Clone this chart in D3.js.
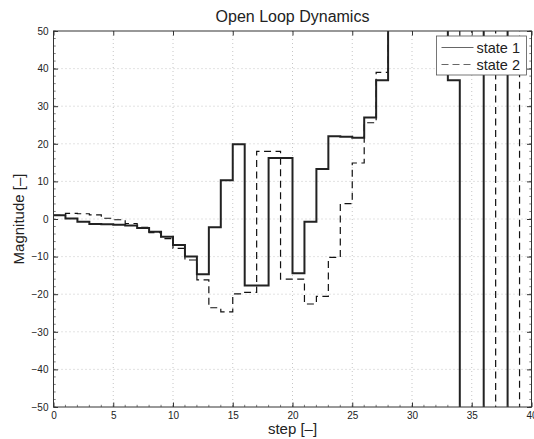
<!DOCTYPE html>
<html>
<head>
<meta charset="utf-8">
<script src="https://cdn.jsdelivr.net/npm/d3@7"></script>
<style>
  html, body { margin: 0; padding: 0; background: #fff; }
  svg text { font-family: "Liberation Sans", Arial, Helvetica, sans-serif; fill: #222; }
</style>
</head>
<body>
<svg id="chart" width="534" height="439"></svg>
<script>
// ---- data ----
const steps = d3.range(0, 41);
// state 1 (solid); values beyond the axes are off-scale (diverging)
const state1 = [1.0, 0.1, -0.7, -1.3, -1.4, -1.5, -1.7, -2.4, -3.4, -4.7,
  -6.9, -10.0, -14.7, -2.2, 10.3, 19.9, -17.7, -17.7, 16.2, 16.2,
  -14.4, -0.7, 13.3, 22.0, 21.9, 21.6, 27.0, 36.9, 90, 90,
  90, 90, 90, 36.9, -90, -90, 90, 90, -90, -90, -90];
// state 2 (dashed)
const state2 = [1.0, 1.5, 1.4, 1.1, 0.2, -0.2, -1.2, -2.2, -3.6, -5.2,
  -7.8, -10.9, -16.2, -23.6, -24.7, -19.9, -19.5, 18.0, 18.0, -16.0,
  -16.0, -22.6, -20.6, -10.2, 4.1, 14.9, 25.6, 39.0, 90, 90,
  90, 90, 90, 90, 44, 90, 90, -90, -90, 90, 90];
const xTicks = [0, 5, 10, 15, 20, 25, 30, 35, 40];
const yTicks = [-50, -40, -30, -20, -10, 0, 10, 20, 30, 40, 50];
const seriesNames = ["state 1", "state 2"];
const titleText = "Open Loop Dynamics";
const xLabel = "step [\u2013]";
const yLabel = "Magnitude [\u2013]";

// ---- layout ----
const W = 534, H = 439;
const m = { left: 53.5, right: 2.5, top: 31, bottom: 32 };
const iw = W - m.left - m.right, ih = H - m.top - m.bottom;

const svg = d3.select("#chart");
const g = svg.append("g").attr("transform", `translate(${m.left},${m.top})`);

const x = d3.scaleLinear().domain([0, 40]).range([0, iw]);
const y = d3.scaleLinear().domain([-50, 50]).range([ih, 0]);

// grid
const grid = g.append("g").attr("stroke", "#b8b8b8").attr("stroke-width", 0.8).attr("stroke-dasharray", "1,3");
grid.selectAll(".gx").data(xTicks.slice(1, -1)).join("line")
  .attr("x1", d => x(d)).attr("x2", d => x(d)).attr("y1", 0).attr("y2", ih);
grid.selectAll(".gy").data(yTicks.slice(1, -1)).join("line")
  .attr("y1", d => y(d)).attr("y2", d => y(d)).attr("x1", 0).attr("x2", iw);

// clip
svg.append("defs").append("clipPath").attr("id", "clip")
  .append("rect").attr("x", 0).attr("y", 0).attr("width", iw).attr("height", ih);

const line = d3.line().x((d, i) => x(steps[i])).y(d => y(d)).curve(d3.curveStepAfter);
const plot = g.append("g").attr("clip-path", "url(#clip)");
plot.append("path").datum(state2).attr("d", line)
  .attr("fill", "none").attr("stroke", "#111").attr("stroke-width", 1.2).attr("stroke-dasharray", "7,4.5");
plot.append("path").datum(state1).attr("d", line)
  .attr("fill", "none").attr("stroke", "#222").attr("stroke-width", 2);

// axes (ticks inward, mirrored)
const tickStyle = sel => {
  sel.select(".domain").remove();
  sel.selectAll(".tick line").attr("stroke", "#333");
  sel.selectAll(".tick text").attr("font-size", 10).attr("fill", "#222");
};
const xMinor = d3.range(0, 41, 1);
const yMinor = d3.range(-50, 51, 2);

g.append("g").attr("transform", `translate(0,${ih})`)
  .call(d3.axisBottom(x).tickValues(xTicks).tickSize(-4.5).tickPadding(5).tickFormat(d3.format("d")))
  .call(tickStyle);
g.append("g")
  .call(d3.axisLeft(y).tickValues(yTicks).tickSize(-4.5).tickPadding(5).tickFormat(d3.format("d")))
  .call(tickStyle);
g.append("g").call(d3.axisTop(x).tickValues(xTicks).tickSize(-4.5).tickFormat(""))
  .call(tickStyle);
g.append("g").attr("transform", `translate(${iw},0)`)
  .call(d3.axisRight(y).tickValues(yTicks).tickSize(-4.5).tickFormat(""))
  .call(tickStyle);
// minor ticks
const mt = g.append("g").attr("stroke", "#444").attr("stroke-width", 0.7);
mt.selectAll(".mxb").data(xMinor).join("line")
  .attr("x1", d => x(d)).attr("x2", d => x(d)).attr("y1", ih).attr("y2", ih - 2.2);
mt.selectAll(".myl").data(yMinor).join("line")
  .attr("y1", d => y(d)).attr("y2", d => y(d)).attr("x1", 0).attr("x2", 2.2);
mt.selectAll(".myr").data(yMinor).join("line")
  .attr("y1", d => y(d)).attr("y2", d => y(d)).attr("x1", iw).attr("x2", iw - 2.2);

// frame
g.append("rect").attr("x", 0).attr("y", 0).attr("width", iw).attr("height", ih)
  .attr("fill", "none").attr("stroke", "#333").attr("stroke-width", 1);

// title & labels
svg.append("text").attr("x", m.left + iw / 2).attr("y", 22).attr("text-anchor", "middle")
  .attr("font-size", 16).text(titleText);
svg.append("text").attr("x", m.left + iw / 2).attr("y", 434).attr("text-anchor", "middle")
  .attr("font-size", 15).text(xLabel);
svg.append("text").attr("transform", `translate(24,${m.top + ih / 2}) rotate(-90)`)
  .attr("text-anchor", "middle").attr("font-size", 15).text(yLabel);

// legend
const lg = svg.append("g").attr("transform", "translate(436.5,36)");
lg.append("rect").attr("width", 90).attr("height", 39).attr("fill", "#fff").attr("stroke", "#555").attr("stroke-width", 0.8);
const styles = [{ w: 1, dash: null }, { w: 1, dash: "7,4" }];
seriesNames.forEach((n, i) => {
  const yy = 11.5 + i * 17;
  lg.append("line").attr("x1", 5).attr("x2", 37).attr("y1", yy).attr("y2", yy)
    .attr("stroke", "#666").attr("stroke-width", styles[i].w)
    .attr("stroke-dasharray", styles[i].dash);
  lg.append("text").attr("x", 40).attr("y", yy + 5).attr("font-size", 14.5).text(n);
});
</script>
</body>
</html>
